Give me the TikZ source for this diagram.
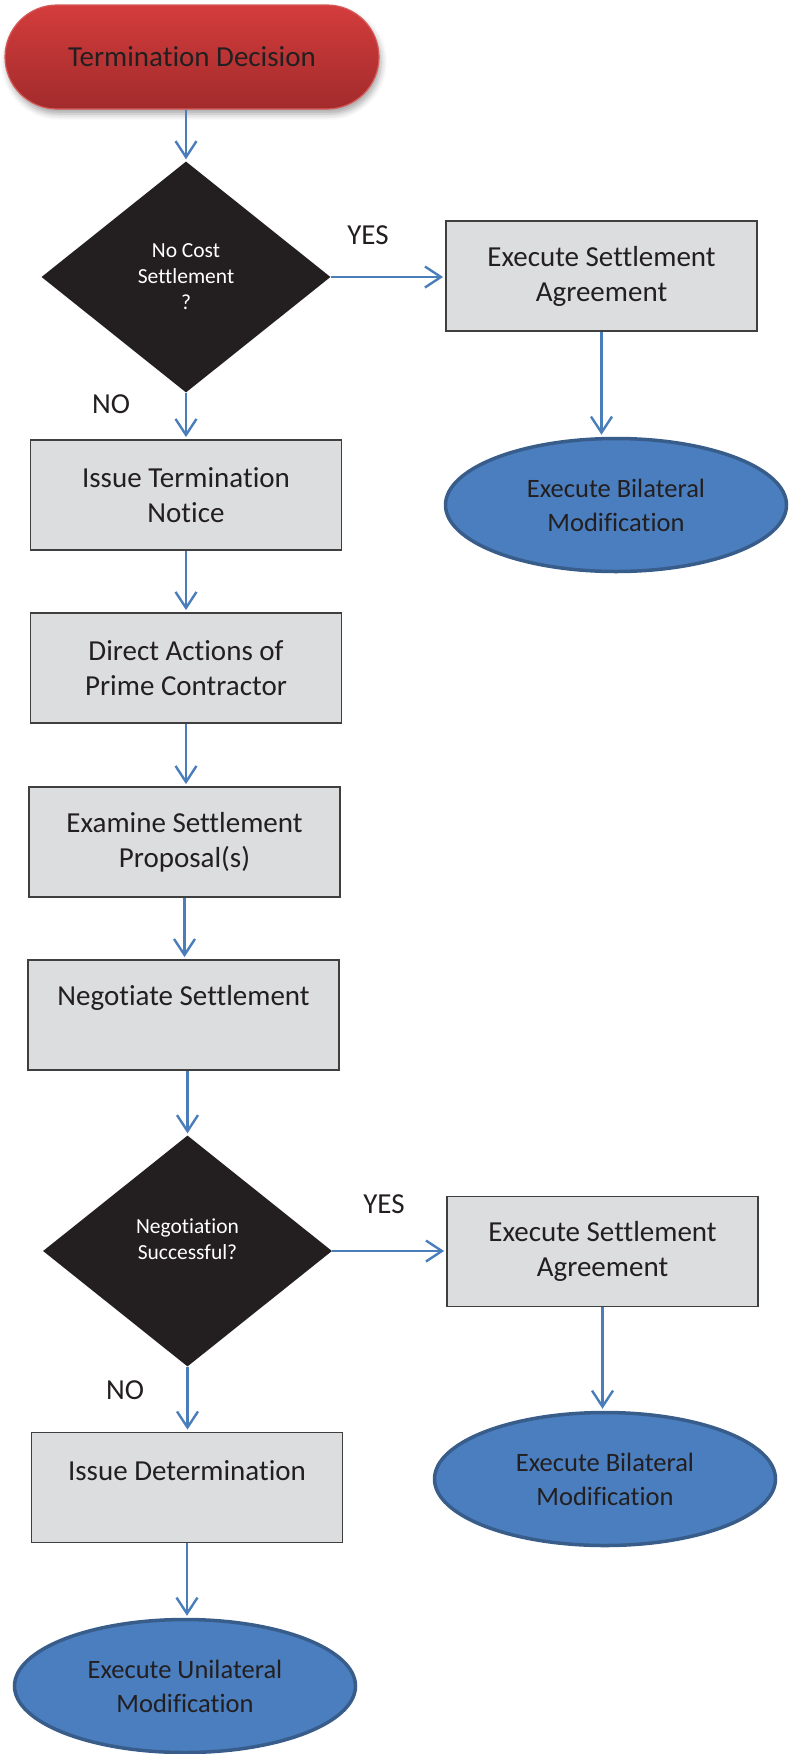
\documentclass[tikz,border=0pt]{standalone}
\usepackage{fontspec}
\setmainfont[RawFeature={-liga;-clig;-calt;-dlig}]{Carlito}
\usetikzlibrary{arrows.meta,shapes.geometric,shapes.misc,shadows.blur}

\definecolor{flowblue}{HTML}{4A7EBB}
\definecolor{ellfill}{HTML}{4A7EBF}
\definecolor{elldraw}{HTML}{385D8A}
\definecolor{boxfill}{HTML}{DCDDDF}
\definecolor{boxdraw}{HTML}{3F3F3F}
\definecolor{ink}{HTML}{231F20}
\definecolor{termtop}{HTML}{D43C3C}
\definecolor{termbot}{HTML}{A22B2C}
\definecolor{termedge}{HTML}{D65A5A}

\tikzset{
  flow/.style={draw=flowblue, line width=2.4pt, shorten >=2pt,
    -{Straight Barb[length=16pt,width=21pt,line width=2.4pt]}},
  procbox/.style={rectangle, draw=boxdraw, line width=1.8pt, fill=boxfill,
    minimum width=311pt, minimum height=110pt, inner sep=0pt,
    text=ink, align=center, font=\fontsize{29}{35}\selectfont},
  boxtext/.style={text=ink, inner sep=0pt, font=\fontsize{29}{35}\selectfont},
  decision/.style={diamond, fill=ink, minimum width=289pt, minimum height=231pt,
    inner sep=0pt, aspect=1},
  dectext/.style={text=white, align=center, inner sep=0pt,
    font=\fontsize{21.5}{26}\selectfont},
  endpoint/.style={ellipse, draw=elldraw, line width=3.5pt, fill=ellfill,
    minimum width=341pt, minimum height=133pt, inner sep=0pt,
    text=ink, align=center, font=\fontsize{26.5}{34}\selectfont},
  branch/.style={text=ink, inner sep=0pt, font=\fontsize{29}{33}\selectfont},
  terminal/.style={rounded rectangle, draw=termedge, line width=1.2pt,
    top color=termtop, bottom color=termbot,
    minimum width=374pt, minimum height=104pt, inner sep=0pt,
    text=ink, font=\fontsize{29}{33}\selectfont,
    blur shadow={shadow xshift=2pt, shadow yshift=-5pt, shadow blur radius=6pt,
      shadow opacity=35}},
}

\begin{document}
\begin{tikzpicture}[x=1pt, y=-1pt]
  \useasboundingbox (0,0) rectangle (788,1754);

  % start
  \node[terminal] (start) at (192,57) {Termination Decision};

  % first decision and its yes branch
  \node[decision] (nocost) at (186,277) {};
  \node[dectext] (nocostq) at (186,277) {No Cost\\Settlement\\?};
  \node[procbox] (agree1) at (601.5,276) {Execute Settlement\\Agreement};
  \node[endpoint] (bilat1) at (616,505) {Execute Bilateral\\Modification};

  % main sequence
  \node[procbox] (notice) at (186,495) {Issue Termination\\Notice};
  \node[procbox] (prime) at (186,668) {Direct Actions of\\Prime Contractor};
  \node[procbox] (examine) at (184.5,842) {Examine Settlement\\Proposal(s)};
  \node[procbox] (negotiate) at (183.5,1015) {};
  \node[boxtext] (negotiatet) at (183.5,998) {Negotiate Settlement};

  % second decision and its branches
  \node[decision] (success) at (187.5,1251) {};
  \node[dectext] (successq) at (187.5,1239) {Negotiation\\Successful?};
  \node[procbox] (agree2) at (602.5,1251.5) {Execute Settlement\\Agreement};
  \node[endpoint] (bilat2) at (605,1479) {Execute Bilateral\\Modification};
  \node[procbox] (determine) at (187,1487.5) {};
  \node[boxtext] (determinet) at (187,1471) {Issue Determination};
  \node[endpoint] (unilat) at (185,1686) {Execute Unilateral\\Modification};

  % branch labels
  \node[branch] (yes1) at (368,235) {YES};
  \node[branch] (no1) at (111,404) {NO};
  \node[branch] (yes2) at (384,1204) {YES};
  \node[branch] (no2) at (125,1390) {NO};

  % connectors
  \draw[flow] (nocost.north |- start.south) -- (nocost.north);
  \draw[flow] (nocost.east) -- (nocost.east -| agree1.west);
  \draw[flow] (agree1.south) -- (agree1.south |- bilat1.north);
  \draw[flow] (nocost.south) -- (nocost.south |- notice.north);
  \draw[flow] (notice.south) -- (notice.south |- prime.north);
  \draw[flow] (prime.south) -- (prime.south |- examine.north);
  \draw[flow] (examine.south) -- (examine.south |- negotiate.north);
  \draw[flow] (success.north |- negotiate.south) -- (success.north);
  \draw[flow] (success.east) -- (success.east -| agree2.west);
  \draw[flow] (agree2.south) -- (agree2.south |- bilat2.north);
  \draw[flow] (success.south) -- (success.south |- determine.north);
  \draw[flow] (determine.south) -- (determine.south |- unilat.north);
\end{tikzpicture}
\end{document}
